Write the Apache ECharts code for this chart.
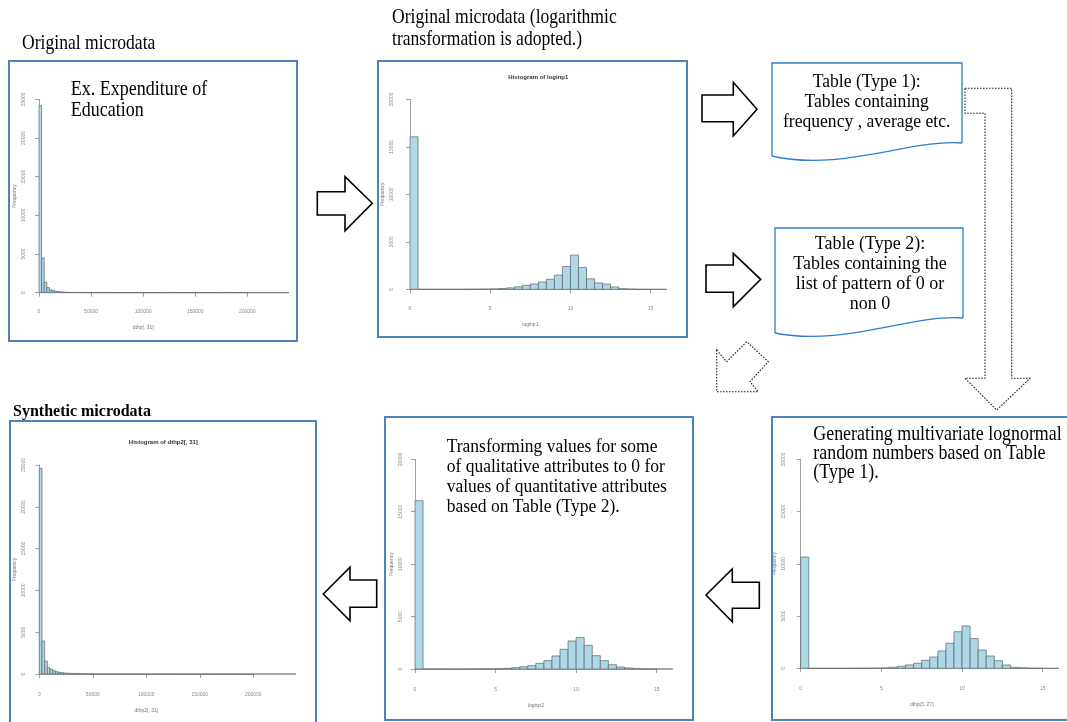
<!DOCTYPE html>
<html>
<head>
<meta charset="utf-8">
<title>Synthetic microdata flow</title>
<script src="https://cdn.jsdelivr.net/npm/echarts@6/dist/echarts.min.js"></script>
<style>
  html, body { margin: 0; padding: 0; background: #fff; }
  #main { width: 1067px; height: 722px; }
</style>
</head>
<body>
<div id="main"></div>
<script>
// bin widths of the R histograms
var rawBin = 2500;
var logBin = 0.5;

// counts per bin
// original microdata, dthp[, 31]
var countsOrig = [
  24200, 4480, 1350, 650, 380, 270, 200, 150, 110, 85, 65, 50, 40, 32, 26, 20,
  16, 13, 10, 8, 7, 6, 5, 4, 3, 3, 2, 2, 1, 1, 1, 0,
  0, 0, 0, 0, 0, 0, 0, 0, 0, 0, 0, 0, 0, 0, 0, 0,
  0, 0, 0, 0, 0, 0, 0, 0, 0, 0, 0, 0, 0, 0, 0, 0,
  0, 0, 0, 0, 0, 0, 0, 0, 0, 0, 0, 0, 0, 0, 0, 0,
  0, 0, 0, 0, 0, 0, 0, 0, 0, 0, 0, 0, 0, 0, 0, 0
];
// original microdata, log transformed (loginp1)
var countsLog1 = [
  16050, 0, 0, 0, 0, 0, 0, 15, 20, 30, 45, 80, 150, 260, 420, 560,
  770, 1050, 1500, 2400, 3600, 2300, 1100, 670, 560, 250, 70, 30, 5, 2, 0, 0
];
// lognormal random numbers, dthp[3, 27]
var countsGen = [
  10650, 0, 0, 0, 0, 5, 8, 10, 15, 20, 40, 100, 190, 320, 480, 770,
  1080, 1660, 2400, 3500, 4050, 2840, 1750, 1180, 730, 320, 100, 50, 20, 10, 0, 0
];
// after zero pattern applied (loginp2)
var countsLog2 = [
  16050, 0, 0, 0, 0, 0, 0, 10, 15, 20, 30, 60, 130, 220, 320, 540,
  800, 1240, 1880, 2670, 3000, 2260, 1270, 800, 410, 190, 100, 50, 20, 10, 0, 0
];
// synthetic microdata, dthp2[, 31]
var countsSyn = [
  24600, 3950, 1555, 760, 560, 400, 280, 200, 160, 120, 95, 75, 60, 48, 38, 30,
  24, 19, 15, 12, 10, 8, 6, 5, 4, 3, 3, 2, 2, 1, 2, 1,
  0, 0, 0, 1, 0, 0, 0, 0, 0, 0, 0, 0, 0, 0, 0, 0,
  1, 0, 0, 0, 0, 0, 0, 0, 0, 0, 0, 0, 0, 0, 0, 0,
  0, 0, 0, 0, 0, 0, 0, 0, 1, 0, 0, 0, 0, 0, 0, 0,
  0, 0, 0, 0, 0, 0, 0, 0, 0, 0, 0, 0, 0, 0, 0, 0
];

// tick labels
var rawXTicks = [0, 50000, 100000, 150000, 200000];
var rawYTicks = [0, 5000, 10000, 15000, 20000, 25000];
var logXTicks = [0, 5, 10, 15];
var logYTicks = [0, 5000, 10000, 15000, 20000];

var sans = '"Liberation Sans", Arial, sans-serif';
var serif = '"Liberation Serif", "Times New Roman", serif';
var panelBlue = '#4f81bd';
var tableBlue = '#2f7ccf';

// each panel: grid box in px (tick range), axis offsets, names
var panels = [
  { counts: countsOrig, bin: rawBin, xt: rawXTicks, yt: rawYTicks, left: 39, top: 99.3, width: 208.3, height: 193.4, xOff: 7, yOff: 7, xName: 'dthp[, 31]' },
  { counts: countsLog1, bin: logBin, xt: logXTicks, yt: logYTicks, left: 410, top: 99.3, width: 240.7, height: 190, xOff: 7.4, yOff: 10, xName: 'loginp1' },
  { counts: countsSyn, bin: rawBin, xt: rawXTicks, yt: rawYTicks, left: 39.3, top: 465, width: 214, height: 209, xOff: 9.3, yOff: 7, xName: 'dthp2[, 31]' },
  { counts: countsLog2, bin: logBin, xt: logXTicks, yt: logYTicks, left: 415, top: 459.3, width: 241.7, height: 209.7, xOff: 9.3, yOff: 5.7, xName: 'loginp2' },
  { counts: countsGen, bin: logBin, xt: logXTicks, yt: logYTicks, left: 800.7, top: 459.3, width: 242, height: 209, xOff: 8.4, yOff: 9, xName: 'dthp[3, 27]' }
];

function renderBar(params, api) {
  var p0 = api.coord([api.value(0), 0]);
  var p1 = api.coord([api.value(1), api.value(2)]);
  return {
    type: 'rect',
    shape: { x: p0[0], y: p1[1], width: p1[0] - p0[0], height: p0[1] - p1[1] },
    style: { fill: '#add8e6', stroke: '#5e6468', lineWidth: 0.7 }
  };
}

var grids = [], xAxes = [], yAxes = [], series = [];
panels.forEach(function (p, i) {
  grids.push({ left: p.left, top: p.top, width: p.width, height: p.height, containLabel: false });
  xAxes.push({
    gridIndex: i,
    type: 'value',
    min: p.xt[0],
    max: p.xt[p.xt.length - 1],
    interval: p.xt[1] - p.xt[0],
    offset: p.xOff,
    name: p.xName,
    nameLocation: 'middle',
    nameGap: 25,
    nameTextStyle: { fontSize: 5, color: '#777', fontFamily: sans },
    axisLine: { show: true, lineStyle: { color: '#8a8a8a', width: 0.8 } },
    axisTick: { show: true, length: 4, lineStyle: { color: '#8a8a8a', width: 0.8 } },
    axisLabel: { fontSize: 5, color: '#888', fontFamily: sans, margin: 9, hideOverlap: false,
      formatter: function (v) { return String(v); } },
    splitLine: { show: false }
  });
  yAxes.push({
    gridIndex: i,
    type: 'value',
    min: p.yt[0],
    max: p.yt[p.yt.length - 1],
    interval: p.yt[1] - p.yt[0],
    offset: p.yOff,
    name: 'Frequency',
    nameLocation: 'middle',
    nameRotate: 90,
    nameGap: 15,
    nameTextStyle: { fontSize: 5, color: '#777', fontFamily: sans },
    axisLine: { show: true, lineStyle: { color: '#8a8a8a', width: 0.8 } },
    axisTick: { show: true, length: 4, lineStyle: { color: '#8a8a8a', width: 0.8 } },
    axisLabel: { fontSize: 5, color: '#888', fontFamily: sans, margin: 6, rotate: 90, hideOverlap: false,
      formatter: function (v) { return String(v); } },
    splitLine: { show: false }
  });
  series.push({
    type: 'custom',
    xAxisIndex: i,
    yAxisIndex: i,
    clip: false,
    renderItem: renderBar,
    encode: { x: [0, 1], y: 2 },
    data: p.counts.map(function (c, k) { return [k * p.bin, (k + 1) * p.bin, c]; })
  });
});

function frame(x, y, w, h) {
  return { type: 'rect', z: 10, shape: { x: x, y: y, width: w, height: h },
    style: { fill: 'none', stroke: panelBlue, lineWidth: 2 } };
}
function arrow(points, dashed) {
  return { type: 'polygon', z: 10, shape: { points: points },
    style: dashed ? { fill: '#fff', stroke: '#222', lineWidth: 1.1, lineDash: [1.6, 1.4] }
                  : { fill: '#fff', stroke: '#000', lineWidth: 1.6 } };
}
// document shape: three straight sides plus a wavy bottom
function doc(x0, y0, x1, yR, yL, c1, c2) {
  return [
    { type: 'polyline', z: 10, shape: { points: [[x0, yL], [x0, y0], [x1, y0], [x1, yR]] },
      style: { fill: 'none', stroke: tableBlue, lineWidth: 1.3 } },
    { type: 'bezierCurve', z: 10,
      shape: { x1: x1, y1: yR, cpx1: c1[0], cpy1: c1[1], cpx2: c2[0], cpy2: c2[1], x2: x0, y2: yL },
      style: { fill: 'none', stroke: tableBlue, lineWidth: 1.3 } }
  ];
}
// text block centred vertically on y; the slide text is a bit taller than the font, hence sy
function label(x, y, text, size, opts) {
  opts = opts || {};
  var sy = opts.sy || 1;
  return { type: 'text', z: 11, x: x, y: y, scaleY: sy,
    style: { text: text, fill: opts.color || '#000',
      font: (opts.bold ? 'bold ' : '') + size + 'px ' + (opts.family || serif),
      align: opts.align || 'left', textAlign: opts.align || 'left',
      verticalAlign: 'middle', textVerticalAlign: 'middle',
      lineHeight: (opts.lh || size + 3) / sy } };
}

var graphics = [
  frame(9, 61, 288, 280),
  frame(378, 61, 309, 276),
  frame(10, 421, 306, 312),
  frame(385, 417, 308, 303),
  frame(772, 417, 310, 303),

  // block arrows
  arrow([[317.3, 191.7], [345, 191.7], [345, 176.7], [372.3, 203.3], [345, 230.7], [345, 215], [317.3, 215]]),
  arrow([[702, 95], [733.3, 95], [733.3, 82.3], [757, 109.3], [733.3, 136], [733.3, 121.7], [702, 121.7]]),
  arrow([[706, 265], [733.3, 265], [733.3, 253.3], [760.7, 279.3], [733.3, 306.7], [733.3, 292.3], [706, 292.3]]),
  arrow([[706, 595], [732.3, 569], [732.3, 582.3], [759.3, 582.3], [759.3, 608.3], [732.3, 608.3], [732.3, 621.7]]),
  arrow([[323.3, 594], [350, 567.3], [350, 580], [376.7, 580], [376.7, 607.3], [350, 607.3], [350, 620.7]]),
  arrow([[965, 88.3], [1011.7, 88.3], [1011.7, 378.3], [1030, 378.3], [996.7, 410], [965, 378.3], [985, 378.3], [985, 113.3], [965, 113.3]], true),
  arrow([[716.7, 350], [726.7, 361.7], [746.7, 341.7], [768.3, 361.7], [750, 381.7], [758.3, 391.7], [716.7, 391.7]], true),

  // headings
  label(22, 44, 'Original microdata', 17.6, { sy: 1.18 }),
  label(392, 29, 'Original microdata (logarithmic\ntransformation is adopted.)', 17.6, { lh: 22, sy: 1.18 }),
  label(13, 411, 'Synthetic microdata', 16, { bold: true, sy: 1.1 }),

  // panel notes
  label(70.7, 100.5, 'Ex. Expenditure of\nEducation', 18, { lh: 21, sy: 1.12 }),
  label(446.7, 477, 'Transforming values for some\nof qualitative attributes to 0 for\nvalues of quantitative attributes\nbased on Table (Type 2).', 17.5, { lh: 19.8, sy: 1.12 }),
  label(813.3, 454, 'Generating multivariate lognormal\nrandom numbers based on Table\n(Type 1).', 17.9, { lh: 19, sy: 1.12 }),

  // table texts
  label(866.7, 102, 'Table (Type 1):\nTables containing\nfrequency , average etc.', 17.6, { align: 'center', lh: 19.7, sy: 1.1 }),
  label(870, 273.3, 'Table (Type 2):\nTables containing the\nlist of pattern of 0 or\nnon 0', 18, { align: 'center', lh: 20, sy: 1.1 }),

  // histogram titles
  label(538.3, 77.3, 'Histogram of loginp1', 6, { bold: true, align: 'center', family: sans, color: '#333' }),
  label(163.3, 442.7, 'Histogram of dthp2[, 31]', 6, { bold: true, align: 'center', family: sans, color: '#333' })
]
  .concat(doc(772, 63, 962, 143, 156, [910, 139], [840, 172]))
  .concat(doc(775, 228, 963, 318, 333, [911, 314], [842, 347]));

var chart = echarts.init(document.getElementById('main'));
chart.setOption({
  animation: false,
  backgroundColor: '#fff',
  grid: grids,
  xAxis: xAxes,
  yAxis: yAxes,
  series: series,
  graphic: { elements: graphics }
});
</script>
</body>
</html>
